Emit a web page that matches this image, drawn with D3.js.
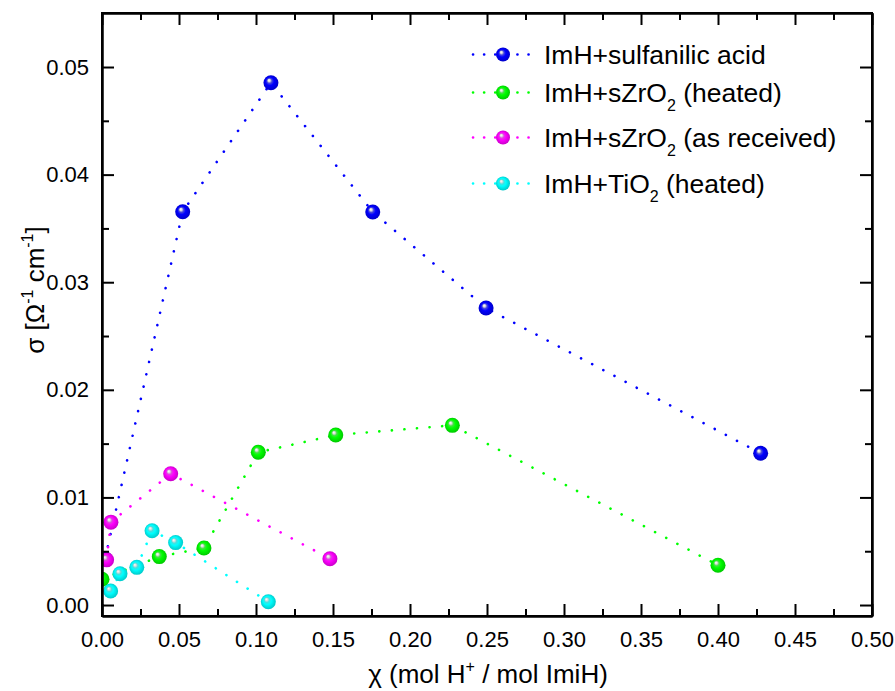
<!DOCTYPE html>
<html>
<head>
<meta charset="utf-8">
<script src="https://cdn.jsdelivr.net/npm/d3@7/dist/d3.min.js"></script>
<style>
  html, body { margin: 0; padding: 0; background: #fff; }
  svg { display: block; font-family: "Liberation Sans", Arial, sans-serif; }
</style>
</head>
<body>
<svg id="chart" width="895" height="691"></svg>
<script>
// ---------------- DATA ----------------
const seriesNames = ["ImH+sulfanilic acid", "ImH+sZrO2 (heated)", "ImH+sZrO2 (as received)", "ImH+TiO2 (heated)"];
const seriesColors = ["#0000ff", "#00ff00", "#ff00ff", "#00ffff"];

const sulfanilicX = [0.002, 0.0524, 0.1097, 0.1758, 0.2494, 0.4277];
const sulfanilicY = [0.0043, 0.03655, 0.04854, 0.03653, 0.0276, 0.0141];

const zro2HeatedX = [0.000, 0.0372, 0.0662, 0.1015, 0.1518, 0.2275, 0.400];
const zro2HeatedY = [0.0024, 0.0045, 0.0053, 0.0142, 0.0158, 0.0167, 0.0037];

const zro2ReceivedX = [0.003, 0.0058, 0.0446, 0.148];
const zro2ReceivedY = [0.0042, 0.0077, 0.0122, 0.0043];

const tio2X = [0.0056, 0.0117, 0.0226, 0.0325, 0.0478, 0.108];
const tio2Y = [0.0013, 0.0029, 0.0035, 0.0069, 0.0058, 0.0003];

const xMajorTicks = [0, 0.05, 0.10, 0.15, 0.20, 0.25, 0.30, 0.35, 0.40, 0.45, 0.50];
const xMinorTicks = [0.025, 0.075, 0.125, 0.175, 0.225, 0.275, 0.325, 0.375, 0.425, 0.475];
const yMajorTicks = [0, 0.01, 0.02, 0.03, 0.04, 0.05];
const yMinorTicks = [0.005, 0.015, 0.025, 0.035, 0.045];

const xDomain = [0, 0.5];
const yDomain = [-0.00102, 0.05502];

// ---------------- LAYOUT ----------------
const plot = { left: 102, right: 872, top: 13, bottom: 616 };
const svg = d3.select("#chart");

const x = d3.scaleLinear().domain(xDomain).range([plot.left, plot.right]);
const y = d3.scaleLinear().domain(yDomain).range([plot.bottom, plot.top]);

const series = [
  { xs: sulfanilicX, ys: sulfanilicY },
  { xs: zro2HeatedX, ys: zro2HeatedY },
  { xs: zro2ReceivedX, ys: zro2ReceivedY },
  { xs: tio2X, ys: tio2Y }
].map((s, i) => ({
  name: seriesNames[i],
  color: seriesColors[i],
  points: s.xs.map((v, j) => [v, s.ys[j]])
}));

// gradients for shaded spheres
const defs = svg.append("defs");
series.forEach((s, i) => {
  const c = d3.color(s.color);
  const g = defs.append("radialGradient")
    .attr("id", "ball" + i)
    .attr("cx", "50%").attr("cy", "50%").attr("r", "55%")
    .attr("fx", "36%").attr("fy", "32%");
  g.append("stop").attr("offset", "0%").attr("stop-color", "#ffffff");
  g.append("stop").attr("offset", "14%").attr("stop-color", "#dcdcdc");
  g.append("stop").attr("offset", "30%").attr("stop-color", d3.interpolateRgb("#b0b0b0", s.color)(0.6));
  g.append("stop").attr("offset", "50%").attr("stop-color", s.color);
  g.append("stop").attr("offset", "100%").attr("stop-color", c.darker(0.8).toString());
});

defs.append("clipPath").attr("id", "plotClip")
  .append("rect")
  .attr("x", plot.left).attr("y", plot.top)
  .attr("width", plot.right - plot.left).attr("height", plot.bottom - plot.top);

const line = d3.line().x(d => x(d[0])).y(d => y(d[1]));

const dataG = svg.append("g").attr("clip-path", "url(#plotClip)");
series.forEach((s, i) => {
  dataG.append("path")
    .attr("d", line(s.points))
    .attr("fill", "none")
    .attr("stroke", s.color)
    .attr("stroke-width", 2.6)
    .attr("stroke-linecap", "round")
    .attr("stroke-dasharray", "0.1 12.5");
});
series.forEach((s, i) => {
  dataG.selectAll(".pt" + i)
    .data(s.points)
    .enter().append("circle")
    .attr("cx", d => x(d[0]))
    .attr("cy", d => y(d[1]))
    .attr("r", 7.5)
    .attr("fill", "url(#ball" + i + ")");
});

// ---------------- AXES ----------------
const fmt = d3.format(".2f");
function styleAxis(g) {
  g.selectAll("path.domain").attr("stroke", "#000").attr("stroke-width", 2);
  g.selectAll(".tick line").attr("stroke", "#000").attr("stroke-width", 2);
  g.selectAll(".tick text").attr("fill", "#000").attr("font-size", 22)
    .attr("font-family", "'Liberation Sans', Arial, sans-serif");
}

// bottom
svg.append("g").attr("transform", `translate(0,${plot.bottom})`)
  .call(d3.axisBottom(x).tickValues(xMajorTicks).tickFormat(fmt).tickSizeInner(-12).tickSizeOuter(0).tickPadding(15))
  .call(styleAxis);
svg.append("g").attr("transform", `translate(0,${plot.bottom})`)
  .call(d3.axisBottom(x).tickValues(xMinorTicks).tickFormat("").tickSizeInner(-7).tickSizeOuter(0))
  .call(styleAxis);
// top
svg.append("g").attr("transform", `translate(0,${plot.top})`)
  .call(d3.axisTop(x).tickValues(xMajorTicks).tickFormat("").tickSizeInner(-12).tickSizeOuter(0))
  .call(styleAxis);
svg.append("g").attr("transform", `translate(0,${plot.top})`)
  .call(d3.axisTop(x).tickValues(xMinorTicks).tickFormat("").tickSizeInner(-7).tickSizeOuter(0))
  .call(styleAxis);
// left
svg.append("g").attr("transform", `translate(${plot.left},0)`)
  .call(d3.axisLeft(y).tickValues(yMajorTicks).tickFormat(fmt).tickSizeInner(-12).tickSizeOuter(0).tickPadding(13))
  .call(styleAxis);
svg.append("g").attr("transform", `translate(${plot.left},0)`)
  .call(d3.axisLeft(y).tickValues(yMinorTicks).tickFormat("").tickSizeInner(-7).tickSizeOuter(0))
  .call(styleAxis);
// right
svg.append("g").attr("transform", `translate(${plot.right},0)`)
  .call(d3.axisRight(y).tickValues(yMajorTicks).tickFormat("").tickSizeInner(-12).tickSizeOuter(0))
  .call(styleAxis);
svg.append("g").attr("transform", `translate(${plot.right},0)`)
  .call(d3.axisRight(y).tickValues(yMinorTicks).tickFormat("").tickSizeInner(-7).tickSizeOuter(0))
  .call(styleAxis);

// frame corners squared
svg.append("rect")
  .attr("x", plot.left).attr("y", plot.top)
  .attr("width", plot.right - plot.left).attr("height", plot.bottom - plot.top)
  .attr("fill", "none").attr("stroke", "#000").attr("stroke-width", 2);

// ---------------- AXIS TITLES ----------------
const xt = svg.append("text")
  .attr("x", (plot.left + plot.right) / 2 + 1).attr("y", 683)
  .attr("text-anchor", "middle").attr("font-size", 26).attr("fill", "#000");
xt.append("tspan").text("χ (mol H");
xt.append("tspan").attr("font-size", 16).attr("dy", -11).text("+");
xt.append("tspan").attr("dy", 11).text(" / mol ImiH)");

const yt = svg.append("text")
  .attr("transform", `translate(44,${290}) rotate(-90)`)
  .attr("text-anchor", "middle").attr("font-size", 26).attr("fill", "#000");
yt.append("tspan").text("σ [Ω");
yt.append("tspan").attr("font-size", 16).attr("dy", -11).text("-1");
yt.append("tspan").attr("dy", 11).text(" cm");
yt.append("tspan").attr("font-size", 16).attr("dy", -11).text("-1");
yt.append("tspan").attr("dy", 11).text("]");

// ---------------- LEGEND ----------------
const legendBaselines = [64, 102, 147, 193];
const legendG = svg.append("g");
series.forEach((s, i) => {
  const by = legendBaselines[i];
  const my = by - 9.5;
  legendG.append("line")
    .attr("x1", 473).attr("x2", 530).attr("y1", my).attr("y2", my)
    .attr("stroke", s.color).attr("stroke-width", 2.6)
    .attr("stroke-linecap", "round").attr("stroke-dasharray", "0.1 11");
  legendG.append("circle")
    .attr("cx", 503).attr("cy", my).attr("r", 7)
    .attr("fill", "#fff");
  legendG.append("circle")
    .attr("cx", 503).attr("cy", my).attr("r", 7)
    .attr("fill", "url(#ball" + i + ")");
  const t = legendG.append("text")
    .attr("x", 544).attr("y", by)
    .attr("font-size", 26.5).attr("fill", "#000");
  const m = s.name.match(/^(.*O)2(.*)$/);
  if (m) {
    t.append("tspan").text(m[1]);
    t.append("tspan").attr("font-size", 16).attr("dy", 9).text("2");
    t.append("tspan").attr("dy", -9).text(m[2]);
  } else {
    t.text(s.name);
  }
});
</script>
</body>
</html>
